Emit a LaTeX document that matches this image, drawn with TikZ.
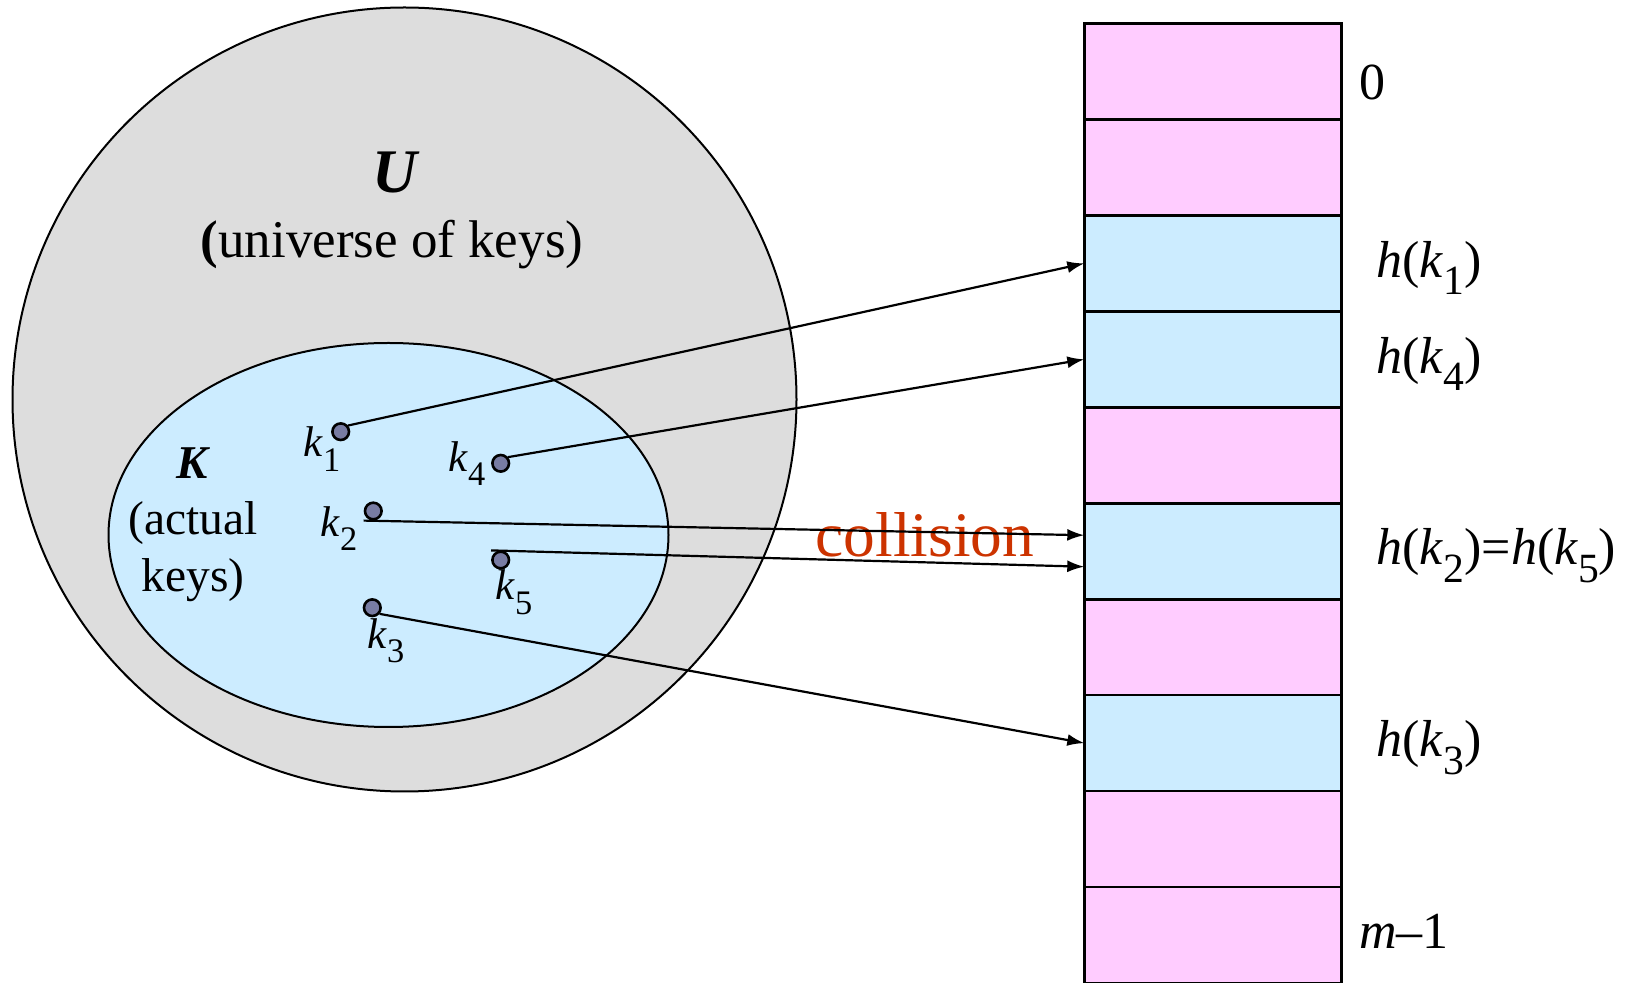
\documentclass[tikz,border=0pt]{standalone}
\usepackage{fontspec}
\setmainfont{Liberation Serif}
\usepackage{graphicx}
\usetikzlibrary{arrows.meta}

\definecolor{univgray}{RGB}{221,221,221}
\definecolor{keyblue}{RGB}{204,236,255}
\definecolor{slotpink}{RGB}{255,204,255}
\definecolor{dotfill}{RGB}{120,124,163}
\definecolor{collred}{RGB}{204,51,0}

% lowered, slightly smaller index as used in the key labels
\newcommand\lowsub[1]{\raisebox{-0.33em}{\scalebox{0.8}{#1}}}
\newcommand\fsz[1]{\fontsize{#1pt}{#1pt}\selectfont}

\begin{document}
\begin{tikzpicture}[x=0.5pt,y=-0.5pt,
  keydot/.style={circle, draw=black, fill=dotfill, line width=1.3pt,
    minimum size=8.3pt, inner sep=0pt},
  slot/.style={rectangle, draw=black, line width=1.35pt,
    minimum width=128.7pt, minimum height=47.975pt, inner sep=0pt, outer sep=0pt},
  hasharrow/.style={-{Latex[length=8.5pt,width=6pt]}, line width=1.1pt},
  lbl/.style={inner sep=0pt, anchor=base west},
  ctr/.style={inner sep=0pt, anchor=base},
  keylbl/.style={lbl, font=\fsz{21.5}},
  slotlbl/.style={lbl, font=\fsz{26}}]

\useasboundingbox (0,0) rectangle (1629,983);

% universe and the set of actual keys
\fill[univgray] (404.5,399.5) circle[radius=196pt];
\draw[line width=1pt] (404.5,399.5) circle[radius=196pt];
\fill[keyblue] (388.5,535) ellipse[x radius=140pt, y radius=96pt];
\draw[line width=1pt] (388.5,535) ellipse[x radius=140pt, y radius=96pt];

\node[ctr, font=\fsz{31}\bfseries\itshape] (ulbl) at (395,193) {U};
\node[ctr, font=\fsz{26.5}] (udesc) at (392,257.5) {\textbf{(}universe of keys)};
\node[ctr, font=\fsz{23.5}\bfseries\itshape] (klbl) at (192,479) {K};
\node[ctr, font=\fsz{23.75}] (kdesc1) at (193,535) {(actual};
\node[ctr, font=\fsz{23.75}] (kdesc2) at (193,592) {keys)};

% hash table slots
\foreach \i/\c in {0/slotpink,1/slotpink,2/keyblue,3/keyblue,4/slotpink,
                   5/keyblue,6/slotpink,7/keyblue,8/slotpink,9/slotpink}
  \node[slot, fill=\c] (r\i) at (1213,{23.5+95.95*(\i+0.5)}) {};

\node[slotlbl] (l0) at (1359,100) {0};
\node[slotlbl] (l2) at (1376,277.5) {\textit{h}(\textit{k}\lowsub{1})};
\node[slotlbl] (l3) at (1376,373.5) {\textit{h}(\textit{k}\lowsub{4})};
\node[slotlbl] (l5) at (1376,565) {\textit{h}(\textit{k}\lowsub{2})=\textit{h}(\textit{k}\lowsub{5})};
\node[slotlbl] (l7) at (1376,757) {\textit{h}(\textit{k}\lowsub{3})};
\node[slotlbl] (l9) at (1359,948) {\textit{m}--1};

\node[ctr, font=\fsz{31.7}, text=collred] (coll) at (925,556.5) {collision};

% keys
\node[keydot] (k1) at (340.7,431.7) {};
\node[keydot] (k4) at (500.7,463.3) {};
\node[keydot] (k2) at (373.3,511) {};
\node[keydot] (k5) at (500.7,560) {};
\node[keydot] (k3) at (372.3,607.7) {};

\node[keylbl] (t1) at (303,457) {\textit{k}\lowsub{1}};
\node[keylbl] (t4) at (448,471.7) {\textit{k}\lowsub{4}};
\node[keylbl] (t2) at (320,536.7) {\textit{k}\lowsub{2}};
\node[keylbl] (t5) at (495,600) {\textit{k}\lowsub{5}};
\node[keylbl] (t3) at (367,648.3) {\textit{k}\lowsub{3}};

% hash function mapping
\draw[hasharrow] (k1.40) -- (r2.west);
\draw[hasharrow] (k4.40) -- (r3.west);
\draw[hasharrow] (k2.west |- k2.south) -- ([yshift=8pt]r5.west);
\draw[hasharrow] (k5.west |- k5.north) -- ([yshift=-7.75pt]r5.west);
\draw[hasharrow] (k3.-40) -- (r7.west);
\end{tikzpicture}
\end{document}
